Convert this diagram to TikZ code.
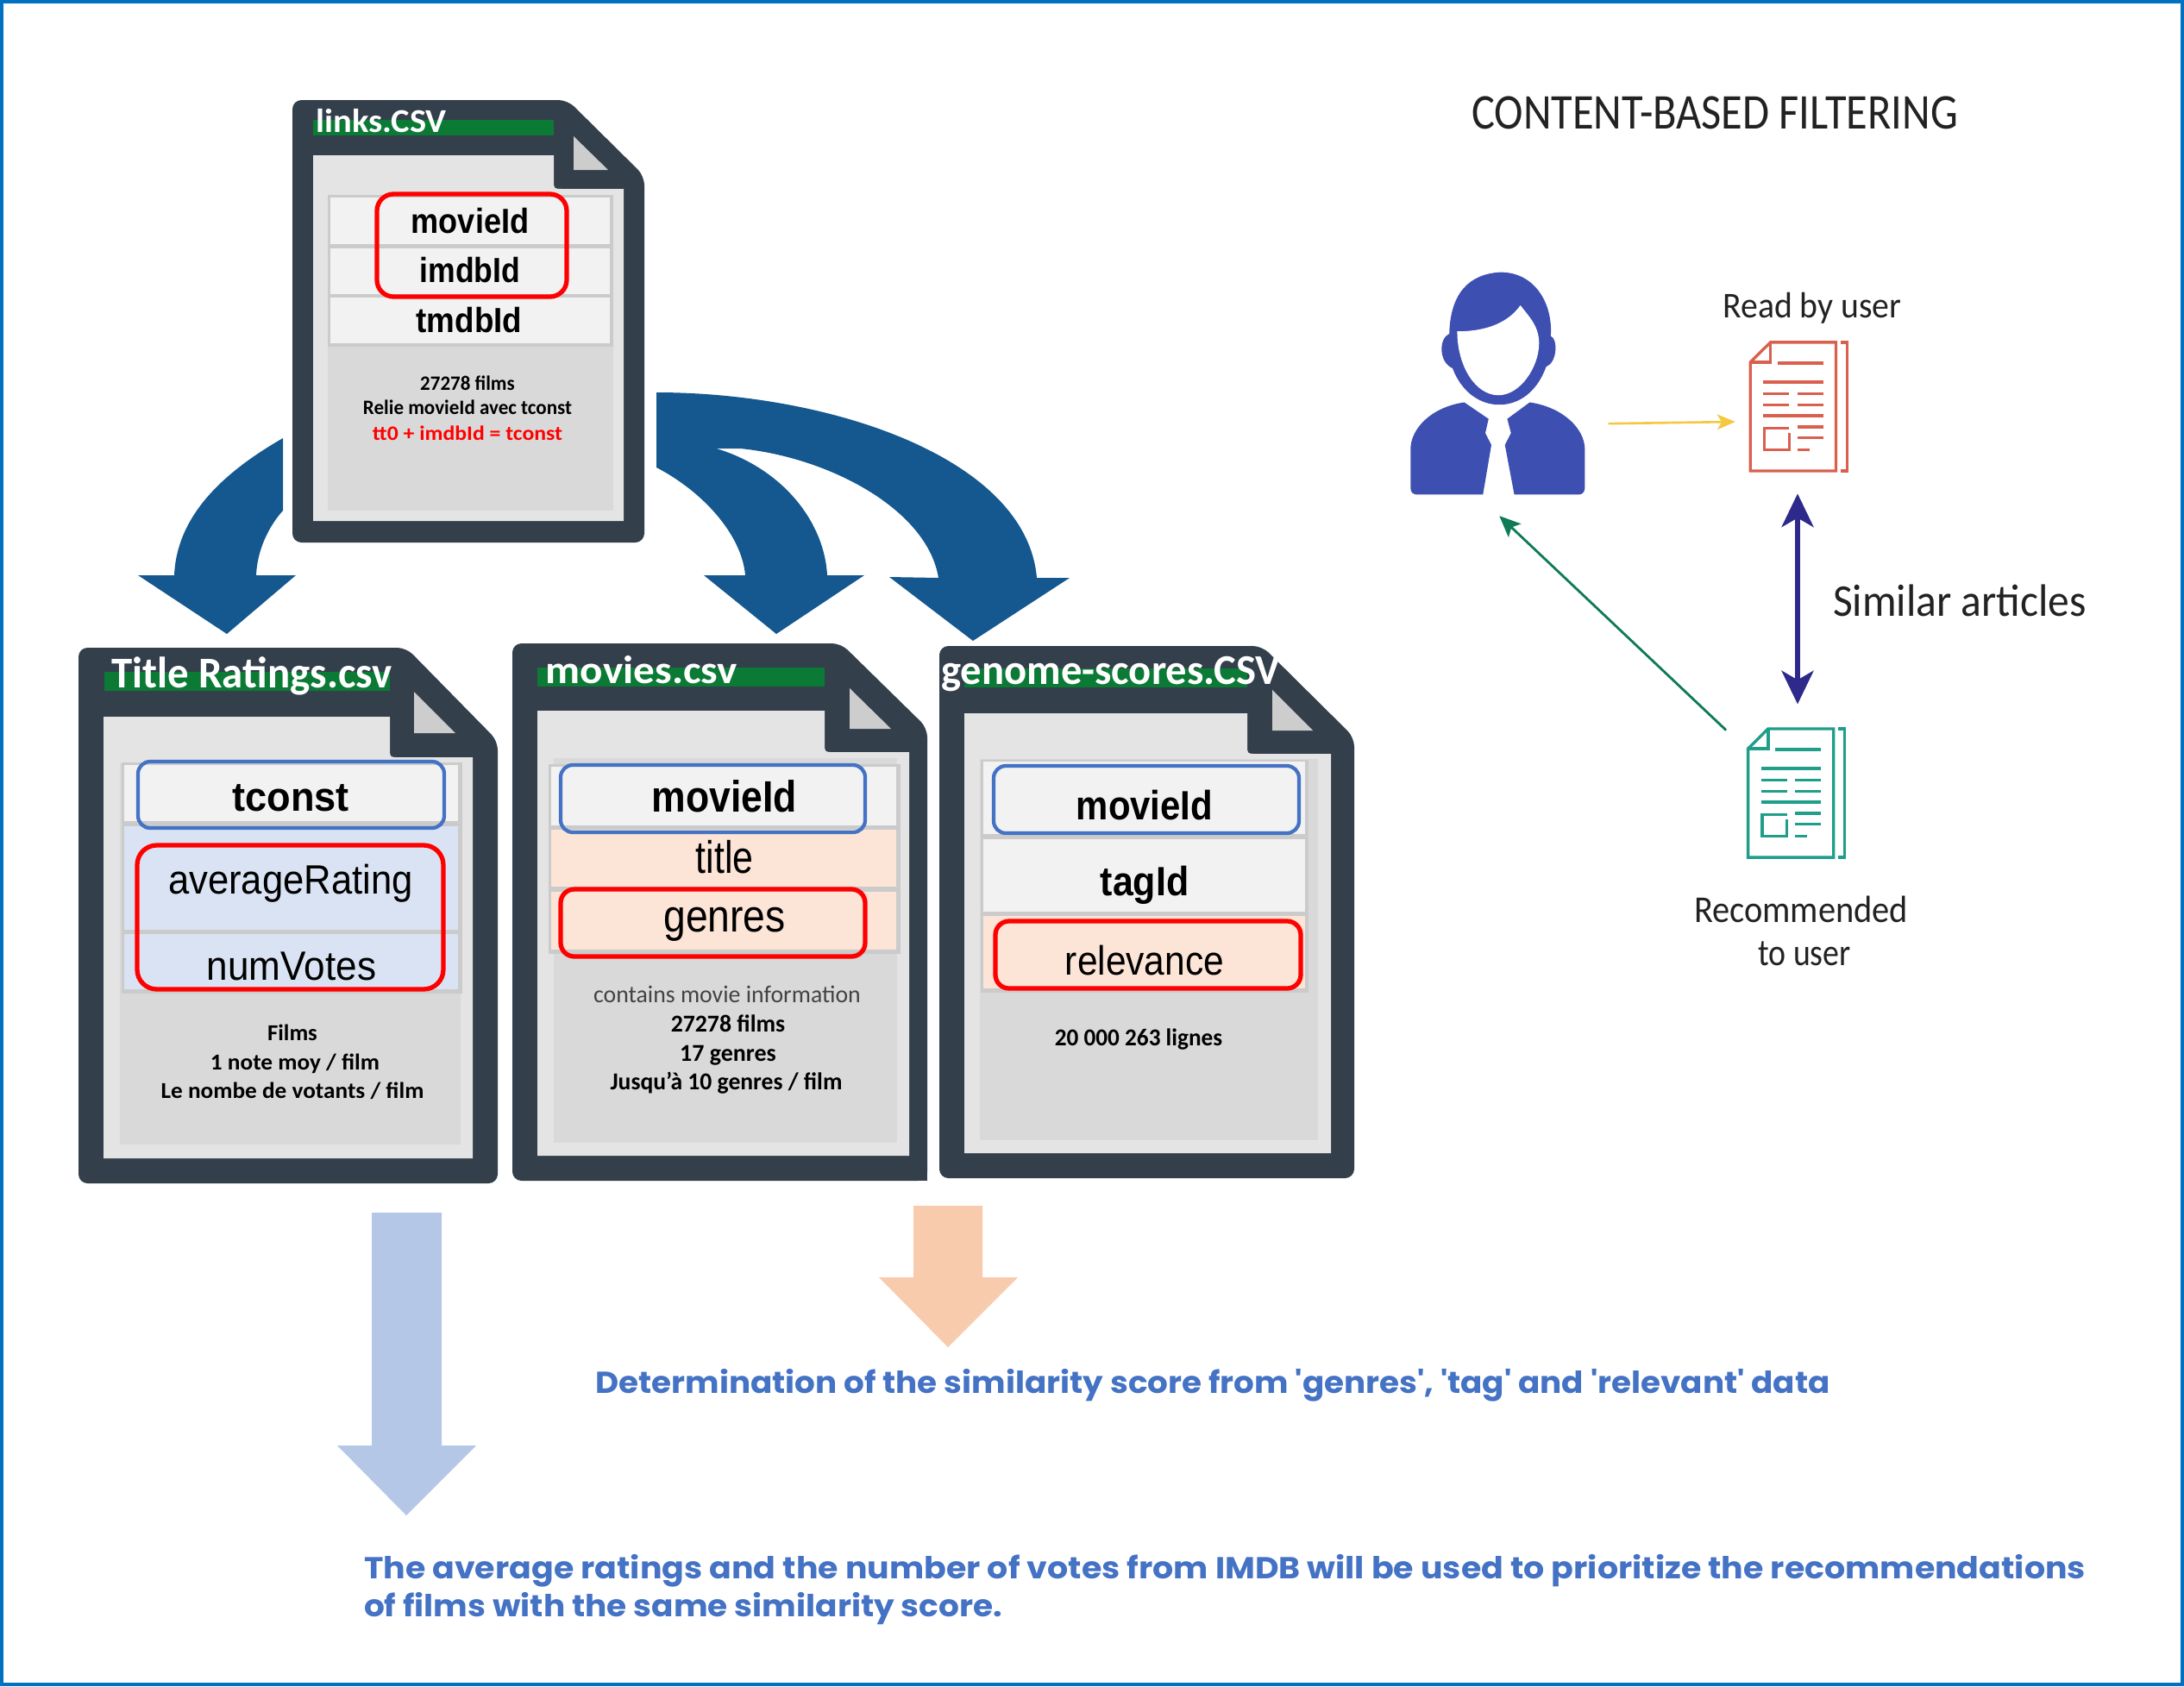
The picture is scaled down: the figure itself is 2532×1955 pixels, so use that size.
\documentclass[tikz,border=0pt]{standalone}
\usepackage{fontspec}
\usepackage{graphicx}
\usetikzlibrary{arrows.meta}
\setmainfont{Carlito}
\newfontfamily\arial{Liberation Sans}
\newfontfamily\carl{Carlito}
\newfontfamily\pop{Poppins}
\definecolor{docdark}{HTML}{333F4B}
\definecolor{paper}{HTML}{E4E4E4}
\definecolor{panel}{HTML}{D9D9D9}
\definecolor{rowline}{HTML}{CBCBCB}
\definecolor{rowplain}{HTML}{F2F2F2}
\definecolor{rowblue}{HTML}{DAE3F3}
\definecolor{rowpeach}{HTML}{FCE4D6}
\definecolor{band}{HTML}{0B7A35}
\definecolor{keyblue}{HTML}{4472C4}
\definecolor{flow}{HTML}{14588F}
\definecolor{lightblue}{HTML}{B4C7E7}
\definecolor{lightpeach}{HTML}{F8CBAD}
\definecolor{frameblue}{HTML}{0070C0}
\definecolor{person}{HTML}{3E4FB2}
\definecolor{redicon}{HTML}{D9604F}
\definecolor{greenicon}{HTML}{1F9E8A}
\definecolor{darkgreen}{HTML}{0E7A57}
\definecolor{amber}{HTML}{F5C842}
\definecolor{navy}{HTML}{2E2A8C}
\definecolor{inktext}{HTML}{222222}
\newsavebox\fitbox
\newcommand\fitw[2]{\sbox\fitbox{#2}\pgfmathsetmacro\rr{#1*0.5669/\the\wd\fitbox}\scalebox{\rr}[1]{\usebox\fitbox}}
\newcommand\fsz[1]{\fontsize{#1}{#1}\selectfont}
\newcommand\tx[6]{\node[txt,text=#1] (#2) at (#3,#4) {\fitw{#5}{#6}};}
\newcommand\docouter[6]{\fill[docdark,rounded corners=6pt] (#1,#2) -- (#5,#2) -- (#3,#6) -- (#3,#4) -- (#1,#4) -- cycle;}
\newcommand\docinner[6]{\fill[paper] (#1,#2) -- (#3,#2) -- (#3,#4-10) .. controls (#3,#4) .. (#3+10,#4) -- (#5,#4) -- (#5,#6) -- (#1,#6) -- cycle;}
\newcommand\docfold[4]{\fill[paper!90!black] (#1,#2) -- (#1,#3) -- (#4,#3) -- cycle;}
\newcommand\rowbox[5]{\fill[#5] (#1,#2) rectangle (#3,#4);}
\newcommand\articleicon[1]{%
  \draw[#1,icon] (835,213) -- (975,213) -- (975,485) -- (792,485) -- (792,255) -- cycle;
  \draw[#1,icon] (835,213) -- (835,255) -- (792,255);
  \draw[#1,icon] (985,213) -- (999,213) -- (999,485) -- (985,485);
  \draw[#1,icon,line width=2.4pt] (850,257) -- (948,257);
  \draw[#1,icon] (820,297) -- (948,297) (820,322) -- (875,322) (893,322) -- (948,322)
    (820,345) -- (875,345) (893,345) -- (948,345) (820,368) -- (948,368)
    (875,395) -- (822,395) -- (822,440) -- (875,440) -- (875,405) (893,392) -- (948,392)
    (893,415) -- (948,415) (893,440) -- (918,440);
}
\tikzset{
  txt/.style={inner sep=0pt,outer sep=0pt},
  bluebox/.style={draw=keyblue,line width=2.4pt,rounded corners=8pt},
  redbox/.style={draw=red,line width=3pt,rounded corners=9pt},
  icon/.style={line width=1.9pt},
}
\begin{document}
\begin{tikzpicture}[x=0.02cm,y=-0.02cm]
\useasboundingbox (0,0) rectangle (2532,1955);
\fill[white] (0,0) rectangle (2532,1955);
\draw[frameblue,line width=2.4pt] (2,2) rectangle (2530,1953);

% curved flow arrows
\fill[flow] (328,508) .. controls (255,550) and (205,600) .. (202,667) -- (160,667) -- (263,735) -- (343,667) -- (297,667) .. controls (298,640) and (310,612) .. (328,592) -- cycle;
\fill[flow] (761,455) .. controls (960,455) and (1190,530) .. (1202,670) -- (1240,670) -- (1128,743) -- (1031,669) -- (1088,670) .. controls (1075,590) and (960,530) .. (858,520) -- (761,520) -- cycle;
\fill[flow] (761,510) .. controls (880,510) and (955,590) .. (959,667) -- (1002,667) -- (900,735) -- (816,667) -- (864,667) .. controls (860,620) and (815,570) .. (761,542) -- cycle;

% links.CSV
\docouter{339}{116}{747}{629}{658}{204}
\docinner{363}{180}{642}{219}{723}{604}
\docfold{665}{158}{197}{705}
\fill[panel] (380,226) rectangle (711,592);
\fill[rowline] (380,226) rectangle (711,402);
\rowbox{383}{229}{707}{283}{rowplain}
\rowbox{383}{288}{707}{341}{rowplain}
\rowbox{383}{345}{707}{398}{rowplain}
\fill[band] (363,139) rectangle (642,157);
\draw[redbox,rounded corners=11pt] (437,225) rectangle (657,344);
\tx{white}{linkstitle}{442}{140}{152}{\carl\bfseries\fsz{22}links.CSV}
\tx{black}{lmovie}{545}{256}{137}{\arial\bfseries\fsz{23}movieId}
\tx{black}{limdb}{545}{313}{117}{\arial\bfseries\fsz{23}imdbId}
\tx{black}{ltmdb}{544}{371}{123}{\arial\bfseries\fsz{23}tmdbId}
\tx{black}{lnote1}{542}{444}{110}{\carl\bfseries\fsz{13.5}27278 films}
\tx{black}{lnote2}{542}{472}{243}{\carl\bfseries\fsz{13.5}Relie movieId avec tconst}
\tx{red}{lnote3}{542}{502}{221}{\carl\bfseries\fsz{13.5}tt0 + imdbId = tconst}

% Title Ratings.csv
\docouter{91}{751}{577}{1372}{471}{859}
\docinner{120}{831}{452}{878}{548}{1343}
\docfold{480}{802}{850}{528}
\fill[panel] (139,885) rectangle (534,1327);
\fill[rowline] (141,884) rectangle (536,1152);
\rowbox{144}{887}{531}{952}{rowplain}
\rowbox{144}{958}{531}{1078}{rowblue}
\rowbox{144}{1083}{531}{1147}{rowblue}
\fill[band] (121,779) rectangle (452,801);
\draw[bluebox] (160,883) rectangle (515,960);
\draw[redbox,rounded corners=13pt] (159,980) rectangle (514,1147);
\tx{white}{trtitle}{292}{784}{326}{\carl\bfseries\fsz{29}Title Ratings.csv}
\tx{black}{tconst}{337}{925}{136}{\arial\bfseries\fsz{27}tconst}
\tx{black}{tavg}{337}{1024}{285}{\arial\fsz{27}averageRating}
\tx{black}{tnum}{338}{1120}{197}{\arial\fsz{27}numVotes}
\tx{black}{tnote1}{339}{1197}{58}{\carl\bfseries\fsz{15}Films}
\tx{black}{tnote2}{342}{1233}{197}{\carl\bfseries\fsz{15}1 note moy / film}
\tx{black}{tnote3}{339}{1265}{306}{\carl\bfseries\fsz{15}Le nombe de votants / film}

% movies.csv
\docouter{594}{746}{1075}{1369}{975}{844}
\fill[docdark] (1050,1345) rectangle (1075,1369);
\docinner{623}{824}{956}{872}{1054}{1340}
\docfold{985}{798}{845}{1033}
\fill[panel] (642,879) rectangle (1040,1325);
\fill[rowline] (636,886) rectangle (1044,1106);
\rowbox{639}{889}{1039}{957}{rowplain}
\rowbox{639}{962}{1039}{1028}{rowpeach}
\rowbox{639}{1034}{1039}{1101}{rowpeach}
\fill[band] (623,774) rectangle (956,796);
\draw[bluebox] (650,887) rectangle (1003,965);
\draw[redbox] (650,1031) rectangle (1003,1109);
\tx{white}{mtitle}{744}{777}{223}{\carl\bfseries\fsz{26}movies.csv}
\tx{black}{mmovie}{840}{923}{169}{\arial\bfseries\fsz{29}movieId}
\tx{black}{mtit}{840}{994}{67}{\arial\fsz{30}title}
\tx{black}{mgen}{840}{1072}{142}{\arial\fsz{30}genres}
\tx{inktext!85!white}{mnote1}{843}{1153}{311}{\carl\fsz{16}contains movie information}
\tx{black}{mnote2}{844}{1187}{133}{\carl\bfseries\fsz{16}27278 films}
\tx{black}{mnote3}{844}{1224}{112}{\carl\bfseries\fsz{16}17 genres}
\tx{black}{mnote4}{842}{1256}{270}{\carl\bfseries\fsz{16}Jusqu’à 10 genres / film}

% genome-scores.CSV
\docouter{1089}{749}{1570}{1366}{1463}{855}
\docinner{1118}{827}{1446}{874}{1543}{1337}
\docfold{1475}{800}{847}{1522}
\fill[panel] (1136,880) rectangle (1528,1322);
\fill[rowline] (1137,881) rectangle (1517,1151);
\rowbox{1140}{883}{1513}{967}{rowplain}
\rowbox{1140}{973}{1513}{1057}{rowplain}
\rowbox{1140}{1062}{1513}{1146}{rowpeach}
\fill[band] (1118,775) rectangle (1446,797);
\draw[bluebox] (1152,888) rectangle (1506,966);
\draw[redbox] (1154,1068) rectangle (1508,1146);
\tx{white}{gtitle}{1288}{782}{395}{\carl\bfseries\fsz{28}genome-scores.CSV}
\tx{black}{gmovie}{1327}{934}{159}{\arial\bfseries\fsz{27}movieId}
\tx{black}{gtag}{1327}{1026}{103}{\arial\bfseries\fsz{27}tagId}
\tx{black}{grel}{1327}{1114}{185}{\arial\fsz{27}relevance}
\tx{black}{gnote}{1320}{1205}{195}{\carl\bfseries\fsz{16}20 000 263 lignes}

% straight block arrows
\fill[lightblue] (431,1406) -- (512,1406) -- (512,1676) -- (552,1676) -- (471,1757) -- (391,1676) -- (431,1676) -- cycle;
\fill[lightpeach] (1059,1398) -- (1139,1398) -- (1139,1481) -- (1180,1481) -- (1099,1562) -- (1019,1481) -- (1059,1481) -- cycle;

% conclusions
\tx{keyblue}{concl1}{1406}{1606}{1437}{\pop\bfseries\fsz{20}Determination of the similarity score from 'genres', 'tag' and 'relevant' data}
\node[txt,anchor=west,text=keyblue] (concl2) at (422,1821) {\fitw{2004}{\pop\bfseries\fsz{20}The average ratings and the number of votes from IMDB will be used to prioritize the recommendations}};
\node[txt,anchor=west,text=keyblue] (concl3) at (422,1865) {\fitw{743}{\pop\bfseries\fsz{20}of films with the same similarity score.}};

% content-based filtering
\tx{inktext}{cbf}{1988}{131}{566}{\carl\fsz{33}CONTENT-BASED FILTERING}
\begin{scope}[shift={(1600,280)},xscale=.542,yscale=.5485]
  % person
  \fill[person] (258,65) .. controls (190,68) and (150,110) .. (148,195) .. controls (125,205) and (125,255) .. (155,268) .. controls (175,320) and (215,345) .. (255,345) .. controls (295,345) and (335,320) .. (355,265) .. controls (380,255) and (380,205) .. (365,200) .. controls (370,130) and (330,65) .. (258,65) -- cycle;
  \fill[white] (165,190) .. controls (230,190) and (275,170) .. (300,135) .. controls (320,160) and (340,180) .. (340,215) .. controls (340,265) and (300,325) .. (253,325) .. controls (205,325) and (165,265) .. (165,190) -- cycle;
  \fill[person] (180,340) .. controls (110,350) and (65,395) .. (65,440) -- (65,520) .. controls (65,530) and (70,535) .. (80,535) -- (220,535) -- (238,430) -- (225,405) -- (232,375) -- cycle;
  \fill[person] (320,340) .. controls (390,350) and (438,395) .. (438,440) -- (438,520) .. controls (438,530) and (432,535) .. (425,535) -- (287,535) -- (267,430) -- (280,405) -- (272,375) -- cycle;
  % article icons
  \articleicon{redicon}
  \begin{scope}[shift={(-5,817)}]
    \articleicon{greenicon}
  \end{scope}
  % connector ends
  \coordinate (userout) at (488,385);
  \coordinate (readin) at (760,381);
  \coordinate (recout) at (740,1033);
  \coordinate (userin) at (255,580);
  \coordinate (readlow) at (893,533);
  \coordinate (rechigh) at (893,978);
\end{scope}
\draw[amber,line width=1.5pt,-{Stealth[length=12pt,width=10pt,inset=3pt]}] (userout) -- (readin);
\draw[darkgreen,line width=1.6pt,-{Stealth[length=14pt,width=12pt,inset=3pt]}] (recout) -- (userin);
\draw[navy,line width=3.4pt,{Stealth[length=22pt,width=21pt,inset=6pt]}-{Stealth[length=22pt,width=21pt,inset=6pt]}] (readlow) -- (rechigh);
\tx{inktext}{readlbl}{2101}{357}{208}{\carl\fsz{24}Read by user}
\tx{inktext}{simlbl}{2272}{696}{295}{\carl\fsz{30}Similar articles}
\tx{inktext}{reclbl}{2088}{1054}{249}{\carl\fsz{25}Recommended}
\tx{inktext}{touser}{2092}{1106}{108}{\carl\fsz{25}to user}
\end{tikzpicture}
\end{document}
